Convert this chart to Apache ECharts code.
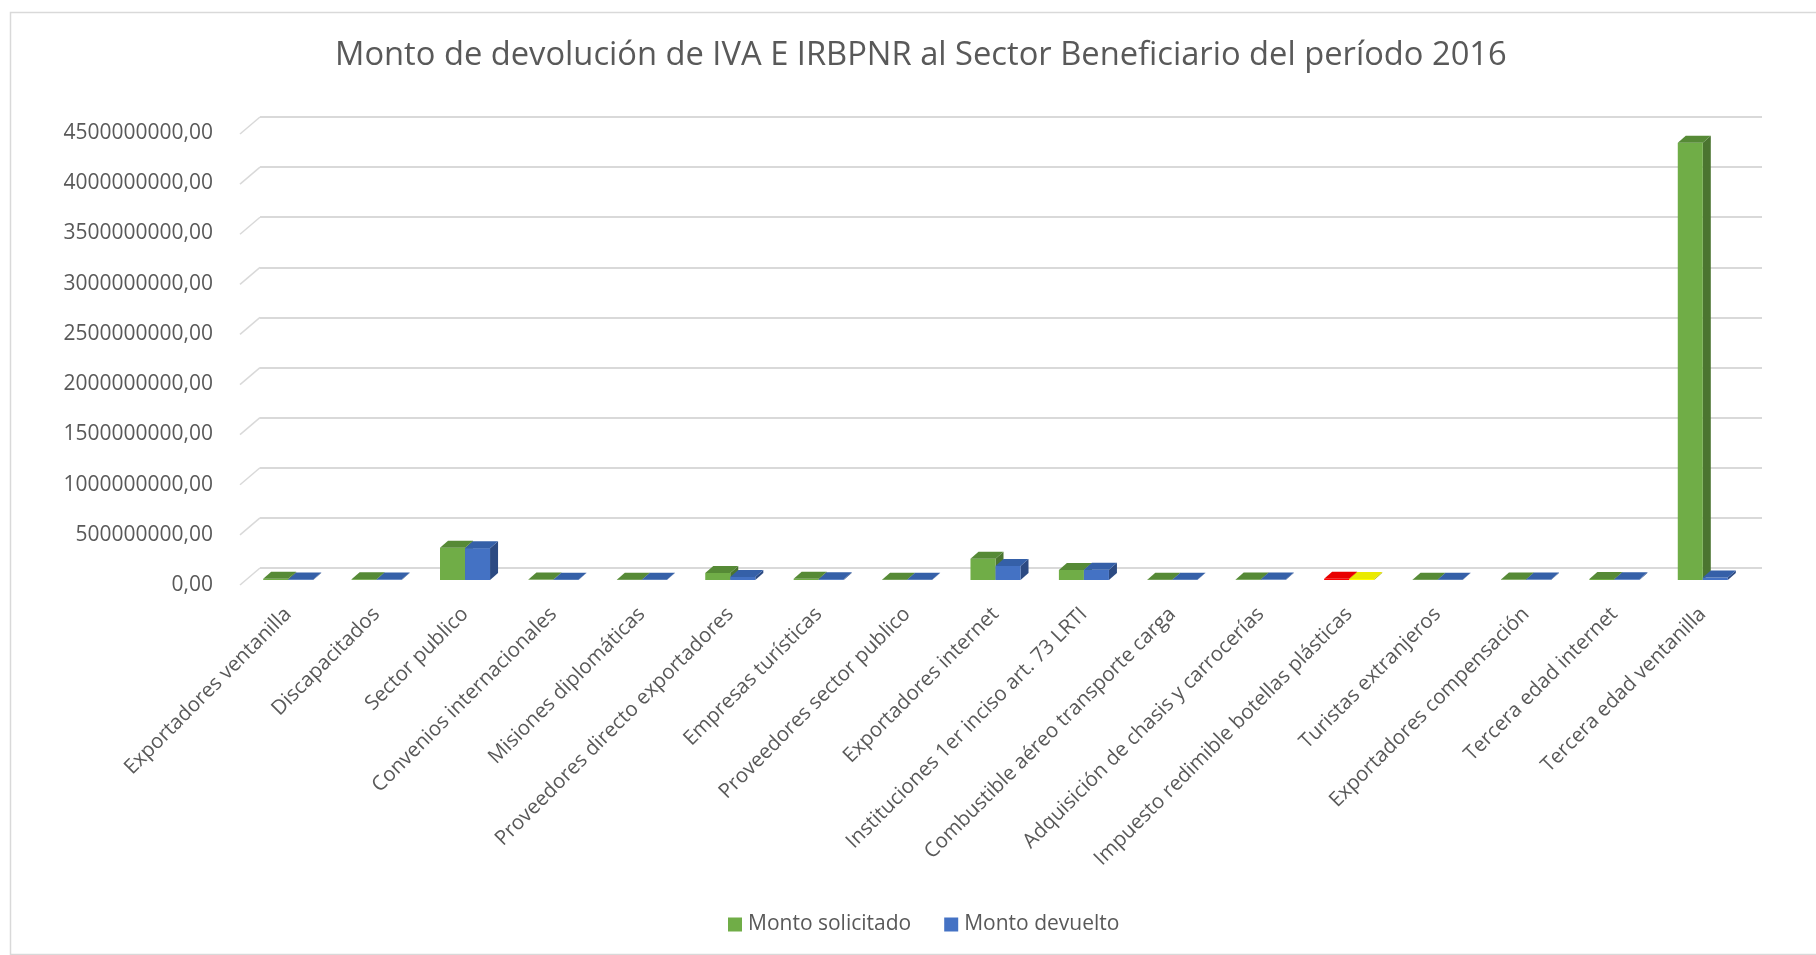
<!DOCTYPE html>
<html>
<head>
<meta charset="utf-8">
<script src="https://cdn.jsdelivr.net/npm/echarts@6/dist/echarts.min.js"></script>
<style>html,body{margin:0;padding:0;background:#fff;}#c{width:1816px;height:955px;}</style>
</head>
<body>
<div id="c"></div>
<script>
// ---- data ----
const categories = [
  'Exportadores ventanilla',
  'Discapacitados',
  'Sector publico',
  'Convenios internacionales',
  'Misiones diplomáticas',
  'Proveedores directo exportadores',
  'Empresas turísticas',
  'Proveedores sector publico',
  'Exportadores internet',
  'Instituciones 1er inciso art. 73 LRTI',
  'Combustible aéreo transporte carga',
  'Adquisición de chasis y carrocerías',
  'Impuesto redimible botellas plásticas',
  'Turistas extranjeros',
  'Exportadores compensación',
  'Tercera edad internet',
  'Tercera edad ventanilla'
];
const montoSolicitado = [12e6, 8e6, 322e6, 4e6, 3e6, 70e6, 12e6, 3e6, 212e6, 100e6, 3e6, 6e6, 12e6, 3e6, 5e6, 10e6, 4362e6];
const montoDevuelto   = [6e6, 5e6, 318e6, 3e6, 2e6, 30e6, 8e6, 2e6, 140e6, 103e6, 2e6, 4e6, 10e6, 2e6, 4e6, 7e6, 25e6];
const yTickValues = [0, 500e6, 1000e6, 1500e6, 2000e6, 2500e6, 3000e6, 3500e6, 4000e6, 4500e6];
const seriesNames = ['Monto solicitado', 'Monto devuelto'];
const titleText = 'Monto de devolución de IVA E IRBPNR al Sector Beneficiario del período 2016';

// ---- styles ----
const FONT = 'Open Sans';
const TXT = '#595959';
const palettes = [
  {front: '#70AD47', top: '#568a36', side: '#4b7530'},
  {front: '#4472C4', top: '#3560a8', side: '#2c4a82'}
];
const specialPalettes = {
  'Impuesto redimible botellas plásticas': [
    {front: '#FF0000', top: '#e80000', side: '#b00000'},
    {front: '#FFFF00', top: '#eaea00', side: '#b5b500'}
  ]
};
const Y_MAX = yTickValues[yTickValues.length - 1];
const Y_INT = yTickValues[1] - yTickValues[0];
const DX = 8, DY = 7, BAR_FRAC = 0.283;

function fmt(v) { return v.toFixed(2).replace('.', ','); }

function barRenderer(sIdx) {
  return function (params, api) {
    const i = api.value(0);
    const v = api.value(1);
    const base = api.coord([i, 0]);
    const top = api.coord([i, v]);
    const band = api.size([1, 0])[0];
    const w = band * BAR_FRAC;
    const x0 = base[0] - w + sIdx * w;
    const x1 = x0 + w;
    const yb = base[1], yt = top[1];
    const sp = specialPalettes[categories[i]];
    const pal = sp ? sp[sIdx] : palettes[sIdx];
    return {
      type: 'group',
      children: [
        {type: 'polygon', shape: {points: [[x1, yb], [x1 + DX, yb - DY], [x1 + DX, yt - DY], [x1, yt]]}, style: {fill: pal.side}},
        {type: 'rect', shape: {x: x0, y: yt, width: w, height: yb - yt}, style: {fill: pal.front}},
        {type: 'polygon', shape: {points: [[x0, yt], [x1, yt], [x1 + DX, yt - DY], [x0 + DX, yt - DY]]}, style: {fill: pal.top}}
      ]
    };
  };
}

const chart = echarts.init(document.getElementById('c'), null, {renderer: 'canvas'});
chart.setOption({
  animation: false,
  backgroundColor: '#fff',
  title: {
    text: titleText, left: 335, top: 39, padding: 0,
    textStyle: {fontFamily: FONT, fontSize: 32.7, fontWeight: 'normal', color: TXT}
  },
  graphic: [{
    type: 'rect', left: 8, top: 10, shape: {x: 0, y: 0, width: 1830, height: 942},
    style: {fill: 'none', stroke: '#d9d9d9', lineWidth: 1.5}, z: -10
  }],
  legend: {
    data: seriesNames, left: 728, top: 914, padding: 0, icon: 'rect', itemWidth: 14, itemHeight: 14, itemGap: 33,
    textStyle: {fontFamily: FONT, fontSize: 21, color: TXT, padding: [0, 0, 0, 1]}
  },
  grid: [
    {left: 244, right: 69, top: 129, bottom: 375},   // bar plane
    {left: 260, right: 54, top: 117, bottom: 387},   // back wall
    {left: 240, right: 74, top: 133, bottom: 370}    // front plane (labels)
  ],
  xAxis: [
    {
      type: 'category', data: categories, gridIndex: 0,
      axisLine: {show: false}, axisTick: {show: false},
      axisLabel: {rotate: 45, interval: 0, margin: 31, fontFamily: FONT, fontSize: 20.5, color: TXT}
    },
    {type: 'value', gridIndex: 1, min: 0, max: 1, show: false},
    {type: 'value', gridIndex: 2, min: 0, max: 1, show: false}
  ],
  yAxis: [
    {type: 'value', gridIndex: 0, min: 0, max: Y_MAX, interval: Y_INT, show: false},
    {
      type: 'value', gridIndex: 1, min: 0, max: Y_MAX, interval: Y_INT,
      axisLine: {show: false}, axisTick: {show: false}, axisLabel: {show: false},
      splitLine: {lineStyle: {color: '#d9d9d9', width: 2}}
    },
    {
      type: 'value', gridIndex: 2, min: 0, max: Y_MAX, interval: Y_INT,
      axisLine: {show: false}, axisTick: {show: false}, splitLine: {show: false},
      axisLabel: {margin: 27, fontFamily: FONT, fontSize: 21, color: TXT, formatter: fmt}
    }
  ],
  series: [
    {
      type: 'custom', name: 'diagonals', xAxisIndex: 1, yAxisIndex: 1, silent: true, clip: false,
      data: yTickValues.map(v => [0, v]),
      renderItem: function (params, api) {
        const p = api.coord([0, api.value(1)]);
        return {type: 'line', shape: {x1: p[0] - 20, y1: p[1] + 17, x2: p[0], y2: p[1]}, style: {stroke: '#d9d9d9', lineWidth: 1.5}};
      }
    },
    {
      type: 'custom', name: seriesNames[0], xAxisIndex: 0, yAxisIndex: 0, clip: false,
      itemStyle: {color: palettes[0].front},
      data: categories.map((c, i) => [i, montoSolicitado[i]]),
      renderItem: barRenderer(0)
    },
    {
      type: 'custom', name: seriesNames[1], xAxisIndex: 0, yAxisIndex: 0, clip: false,
      itemStyle: {color: palettes[1].front},
      data: categories.map((c, i) => [i, montoDevuelto[i]]),
      renderItem: barRenderer(1)
    }
  ]
});
</script>
</body>
</html>
